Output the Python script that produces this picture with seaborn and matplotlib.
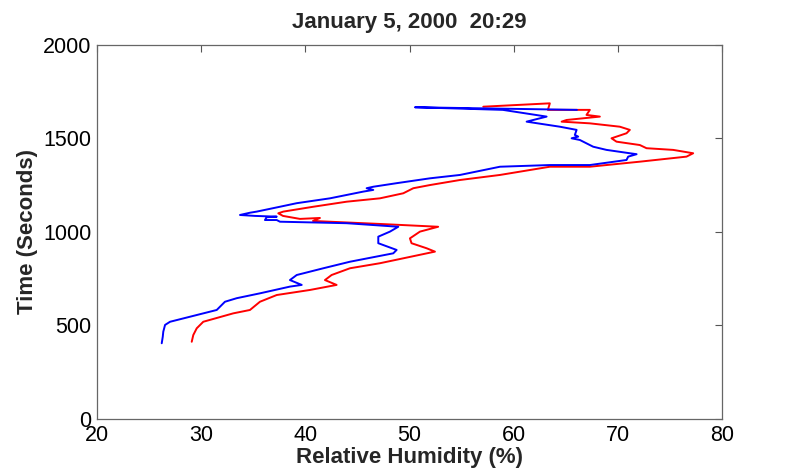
import matplotlib
matplotlib.use("Agg")
import matplotlib.pyplot as plt
import seaborn as sns
import pandas as pd

# Blue sounding: relative humidity (%) vs time (s)
blue_rh = [26.21, 26.31, 26.36, 26.53, 27.01, 28.93, 31.49, 32.28, 33.41, 35.64,
           38.52, 39.65, 38.52, 39.17, 41.72, 44.28, 48.44, 48.76, 47.0, 47.0,
           48.12, 48.92, 43.96, 37.56, 37.25, 36.12, 36.29, 37.25, 35.16, 33.72,
           34.68, 35.33, 37.56, 39.17, 42.36, 45.56, 46.52, 45.88, 46.52, 48.76,
           51.96, 54.84, 58.68, 63.47, 67.31, 70.83, 70.99, 71.80, 71.15, 68.91,
           67.63, 66.35, 65.56, 66.19, 65.87, 66.04, 64.43, 61.24, 63.16, 58.96,
           50.52, 66.07]
blue_t = [405, 440, 467, 503, 520, 547, 583, 627, 646, 672,
          708, 717, 743, 770, 806, 841, 886, 904, 940, 975,
          1002, 1028, 1047, 1055, 1064, 1064, 1079, 1082, 1086, 1091,
          1103, 1109, 1135, 1154, 1180, 1216, 1225, 1234, 1242, 1261,
          1287, 1305, 1349, 1358, 1358, 1385, 1403, 1416, 1421, 1439,
          1456, 1492, 1501, 1510, 1519, 1546, 1563, 1590, 1617, 1653,
          1667, 1653]

# Red sounding
red_rh = [29.09, 29.24, 29.57, 30.2, 33.08, 34.68, 35.64, 37.25, 40.44, 43.0,
          41.88, 42.52, 44.28, 47.16, 52.44, 51.64, 50.19, 50.04, 51.0, 52.75,
          47.16, 40.73, 41.40, 39.48, 37.85, 37.40, 37.88, 40.76, 43.96, 47.16,
          49.40, 50.36, 51.96, 54.84, 58.68, 63.47, 67.31, 72.11, 76.59, 77.23,
          75.31, 72.75, 72.11, 69.87, 69.39, 70.83, 71.15, 70.19, 67.31, 64.60,
          65.08, 68.27, 66.99, 67.31, 63.28, 63.47, 57.08]
red_t = [413, 449, 485, 520, 565, 583, 627, 663, 690, 717,
         743, 770, 806, 833, 895, 913, 940, 966, 1002, 1028,
         1043, 1059, 1075, 1070, 1086, 1100, 1109, 1135, 1162, 1180,
         1207, 1234, 1251, 1278, 1305, 1349, 1349, 1376, 1403, 1421,
         1439, 1448, 1465, 1483, 1501, 1528, 1546, 1563, 1581, 1590,
         1599, 1617, 1626, 1653, 1653, 1688, 1670]

x_ticks = [20, 30, 40, 50, 60, 70, 80]
y_ticks = [0, 500, 1000, 1500, 2000]
title = "January 5, 2000  20:29"
xlabel = "Relative Humidity (%)"
ylabel = "Time (Seconds)"

sns.set_style("white")
plt.rcParams["font.family"] = ["Liberation Sans", "DejaVu Sans"]

fig = plt.figure(figsize=(7.98, 4.70), dpi=100)
ax = fig.add_axes([0.1216, 0.1085, 0.7832, 0.7958])

red_df = pd.DataFrame({"rh": red_rh, "t": red_t})
blue_df = pd.DataFrame({"rh": blue_rh, "t": blue_t})
sns.lineplot(data=red_df, x="rh", y="t", sort=False, estimator=None,
             color="#ff0000", linewidth=1.4, ax=ax)
sns.lineplot(data=blue_df, x="rh", y="t", sort=False, estimator=None,
             color="#0000ff", linewidth=1.4, ax=ax)

ax.set_xlim(20, 80)
ax.set_ylim(0, 2000)
ax.set_xticks(x_ticks)
ax.set_yticks(y_ticks)
ax.tick_params(direction="in", length=5, width=0.8, colors="#555555",
               labelcolor="black", labelsize=15.5, top=True, right=True, pad=4)
for s in ax.spines.values():
    s.set_color("#666666")
    s.set_linewidth(0.9)

ax.set_title(title, fontsize=16, fontweight="bold", pad=12)
ax.set_xlabel(xlabel, fontsize=16, fontweight="bold", labelpad=1)
ax.set_ylabel(ylabel, fontsize=16, fontweight="bold", labelpad=4)

fig.savefig("out.png", dpi=100, facecolor="white")
